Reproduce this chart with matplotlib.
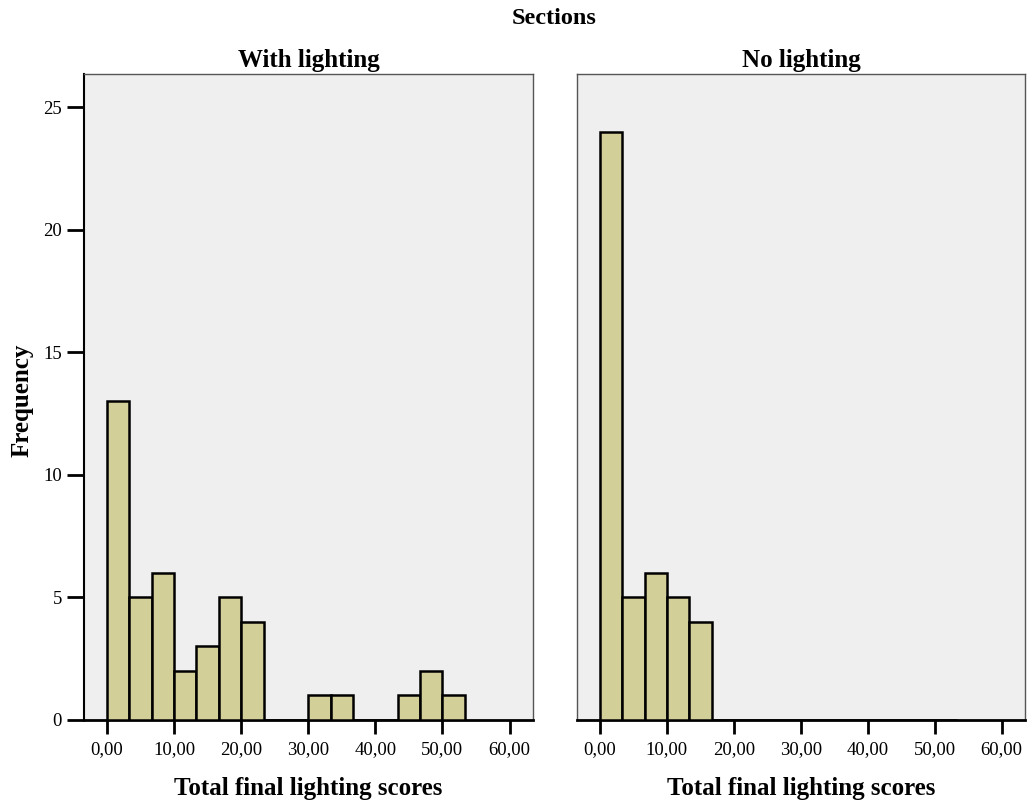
import numpy as np
import matplotlib
matplotlib.use("Agg")
import matplotlib.pyplot as plt

plt.rcParams['font.family'] = ['Liberation Serif', 'DejaVu Serif']

bin_width = 10.0 / 3.0
n_bins = 16
bin_edges = np.arange(n_bins) * bin_width
with_lighting = [13, 5, 6, 2, 3, 5, 4, 0, 0, 1, 1, 0, 0, 1, 2, 1]
no_lighting = [24, 5, 6, 5, 4, 0, 0, 0, 0, 0, 0, 0, 0, 0, 0, 0]
panel_titles = ["With lighting", "No lighting"]
x_ticks = [0, 10, 20, 30, 40, 50, 60]
x_tick_labels = ["0,00", "10,00", "20,00", "30,00", "40,00", "50,00", "60,00"]
y_ticks = [0, 5, 10, 15, 20, 25]

W, H = 1027, 800
fig = plt.figure(figsize=(W / 100, H / 100), dpi=100)

bar_color = "#D3CF98"
bg_color = "#EFEFEF"

panels = [
    (84, 533, with_lighting, panel_titles[0], True),
    (577, 1025, no_lighting, panel_titles[1], False),
]
top_px, bot_px = 74, 720

for left_px, right_px, counts, title, show_y in panels:
    ax = fig.add_axes([left_px / W, 1 - bot_px / H, (right_px - left_px) / W, (bot_px - top_px) / H])
    ax.set_facecolor(bg_color)
    ax.bar(bin_edges, counts, width=bin_width, align='edge', color=bar_color,
           edgecolor='black', linewidth=1.8, zorder=3)
    ax.set_xlim(-3.43, 63.5)
    ax.set_ylim(0, 26.35)
    ax.set_xticks(x_ticks)
    ax.set_xticklabels(x_tick_labels, fontsize=13.5)
    for s in ['top', 'right']:
        ax.spines[s].set_color('#555555')
        ax.spines[s].set_linewidth(1.0)
    ax.spines['bottom'].set_color('black')
    ax.spines['bottom'].set_linewidth(2.0)
    ax.tick_params(axis='x', length=10, width=2, direction='out', pad=5)
    if show_y:
        ax.spines['left'].set_color('black')
        ax.spines['left'].set_linewidth(1.5)
        ax.set_yticks(y_ticks)
        ax.set_yticklabels([str(v) for v in y_ticks], fontsize=13.5)
        ax.tick_params(axis='y', length=12, width=2, direction='out', pad=4)
    else:
        ax.spines['left'].set_color('#555555')
        ax.spines['left'].set_linewidth(1.0)
        ax.set_yticks([])
    ax.set_title(title, fontsize=18, fontweight='bold', pad=5)
    ax.set_xlabel("Total final lighting scores", fontsize=18, fontweight='bold', labelpad=14)

fig.text(22 / W, 1 - 400 / H, "Frequency", rotation=90, ha='center', va='center',
         fontsize=18, fontweight='bold')
fig.text(554 / W, 1 - 18 / H, "Sections", ha='center', va='center', fontsize=17.5, fontweight='bold')

fig.savefig("out.png", dpi=100, facecolor='white')
